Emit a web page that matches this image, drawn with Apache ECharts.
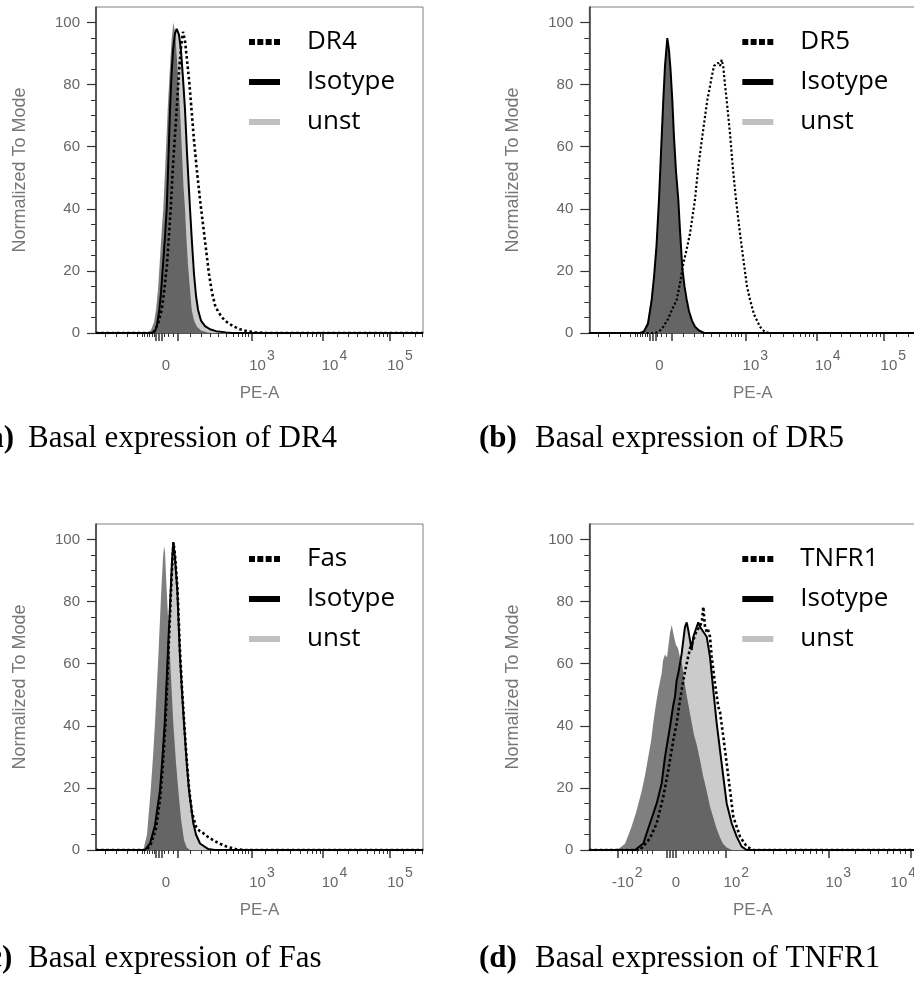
<!DOCTYPE html>
<html lang="en">
<head>
<meta charset="UTF-8">
<title>Basal expression of death receptors</title>
<script src="https://cdn.jsdelivr.net/npm/echarts@6.0.0/dist/echarts.min.js"></script>
<style>
    html, body { margin: 0; padding: 0; background: #fff; }
    #main { width: 914px; height: 992px; }
</style>
</head>
<body>
<div id="main"></div>
<script type="text/javascript">
    // PE-A display channel (0 .. 327 across the plot) and % of mode
    var unstA = [[52,0],[55,1],[58,3.5],[60,7.5],[62,14],[64,24],[65.5,32],[67.3,40],[69,52],[70.5,63],[71.7,72],[73.5,83],[75.5,94],[77.3,100],[79,97],[81,88],[82.5,80],[84,72],[86,58],[87.5,47],[89,40],[90.5,30],[92,22],[94,14],[95.7,7.5],[98,4],[101,2],[105,0.8],[112,0.2],[118,0]];
    var isoA = [[56,0],[59,0.5],[61,2.5],[63.3,7.5],[65,13],[67,22],[69,31],[70.7,40],[72,52],[73,62],[74,72],[75.5,83],[77,91],[79,96.5],[80.7,98],[83,96],[85,91],[87,82],[89,72],[91,58],[93,46],[94,40],[96,29],[98,19],[100,12],[102,7.5],[105,4],[109,2.2],[114,1.2],[120,0.6],[130,0.2],[136,0]];
    var dr4A = [[54,0],[58,0.5],[62,3],[65.7,7.5],[68,13],[71,22],[74.7,40],[77,54],[80.7,72],[83,84],[85,92],[87,97],[89,94],[91,88],[93.5,80],[96,70],[98,62],[101,52],[104,43],[107,35],[110,27],[113,19],[116,13],[119,9],[122,7],[126,5],[131,3.5],[137,2.2],[144,1.2],[151,0.6],[159,0.2],[169,0]];

    var unstB = [[50,0],[54,0.8],[58,3.5],[62,11.5],[64.5,19],[67,29],[69.5,44],[71.5,59],[73.8,76],[75.5,87],[77.7,95],[79.5,91],[81,84],[82.8,74],[84.5,62],[86.5,51],[88.8,42],[90.5,32],[92.8,20],[95,14],[97.2,10],[99.5,6.5],[102.5,3.7],[105.5,1.8],[109.5,0.7],[114,0]];
    var isoB = [[50.7,0],[54.7,0.5],[58.7,3],[62.4,10.7],[64.7,18],[67.2,28],[69.7,43],[71.7,58],[74,75],[75.7,86],[78,95],[79.7,91],[81.2,85],[83,75],[84.7,63],[86.7,52],[89,43],[90.7,33],[93,21],[95.2,15],[97.4,10.7],[99.7,7],[102.7,4],[105.7,2],[109.7,0.8],[114.7,0]];
    var dr5B = [[65.7,0],[70.7,0.8],[74,2],[78.7,4.5],[82.7,7.5],[87.4,10.7],[90.7,16],[93.4,21.4],[96.7,26],[100.7,32],[105.7,43],[109,53.6],[113.4,64.3],[118,75],[120.7,79.5],[122.7,83],[124.7,86],[126.7,85.5],[128.7,87],[130.7,86],[132.4,88],[134,85.7],[135.7,80],[137.4,75],[140.7,64.3],[143.4,53.6],[146.7,43],[150.7,32],[155,21.4],[157.7,15],[160.7,10.7],[164.7,6],[167.7,4],[170.7,2],[175.7,0.3],[180.7,0]];

    var unstC = [[47.3,0],[51,5],[54.7,19.3],[57,30],[59,40.8],[62.3,62.2],[65.3,83.7],[67,94],[68,97.8],[69,96],[70.7,83.7],[72.5,72],[74,62.2],[75.7,51],[77.3,40.8],[80,28],[82.3,19.3],[85,10],[88,3.2],[90.7,0.8],[94,0]];
    var isoC = [[49,0],[54,2.1],[59,8],[64,19.3],[66.5,30],[68.7,40.8],[71.7,62.2],[74.7,83.7],[76,93],[77.3,99.2],[79,94],[81.3,83.7],[84,62.2],[86,51],[88,40.8],[90.5,29],[93,19.3],[97.3,8.6],[100,5],[104,2.1],[112.3,0.3],[119,0]];
    var fasC = [[51,0],[55,2],[60,7],[64,16],[67,28],[69.5,41],[72,60],[75,83],[76.5,94],[77.5,99],[79,95],[81.5,84],[84,64],[86,52],[88,42],[90.5,30],[93,20],[96,12],[100,7.5],[104,6],[107.3,5.4],[112,4.2],[117,3.2],[124,2],[130.7,1.1],[140.7,0.2],[149,0]];

    var unstD = [[22.7,0],[29.7,0.5],[35.7,2],[41.7,7],[46.7,12],[52.4,19],[55.7,24],[59,30],[61.7,35],[64,41],[66.7,47],[69,51.5],[70.7,52],[72.4,57],[73.7,61],[75.7,63],[77.7,62],[79.2,66],[80.7,70],[82.4,72.5],[83.7,72],[85.2,68],[86.7,66],[88.7,65],[90.7,62],[92.7,60],[94.7,55],[97.2,50],[99,47],[100.7,44],[102.4,41],[104.7,37],[107.4,34],[110.7,29],[113.7,24],[117.4,19],[120.7,14],[124,10.5],[127.2,7],[130.7,4],[133.7,2],[137.4,0.8],[142.7,0]];
    var isoD = [[45.7,0],[54,2.1],[60.7,8.6],[67.4,15],[72.4,21.5],[75.7,30],[77.4,33.3],[80.7,39.7],[84,46.7],[85.7,49.4],[87.4,54.7],[89,56.9],[90.7,60],[92.4,63.3],[94,67.6],[95.7,71.9],[97.4,73.3],[99,70.8],[100.7,67.6],[102.4,64.4],[104,68.7],[107.4,71.9],[109,73.3],[110.7,71.9],[114,70.3],[117.4,68.7],[120.7,62.2],[124,51.5],[127.4,40.8],[130.7,32.2],[134,23.6],[137.4,15],[142.4,8.6],[147.4,4.3],[152.4,1.1],[157.4,0]];
    var tnfr1D = [[50.7,0],[60.7,3.8],[67.4,8.6],[74,17.2],[79,25.7],[84,35.4],[87.4,40.8],[90.7,48.3],[94,54.7],[97.4,60.1],[100.7,64.9],[104,67.6],[107.4,70.8],[110.7,71.9],[112.7,74],[114,78.3],[115.7,71.9],[117.4,70.3],[118.7,71],[120.7,68.7],[122.4,62.2],[125.7,53.6],[129,46.1],[130.7,44.5],[134,36.5],[137.4,27.9],[140.7,19.3],[144,10.7],[150.7,4.3],[157.4,1.1],[164,0]];

    // biexponential axis: tick and label positions in display channels
    var majorTicksLog = [60, 63, 66, 82, 156, 227, 294];
    var minorTicksLog = [9, 20, 31, 41, 46, 48, 51, 53, 56, 58, 68, 72, 77, 94, 105, 114, 122, 130, 137, 142, 146, 149, 152, 169, 181, 194, 204, 211, 216, 220, 224, 241, 252, 261, 271, 278, 283, 287, 291, 307, 319, 326];
    var labelPosLog = [70, 166, 238.5, 304];
    var labelTextLog = ['0', '10^3', '10^4', '10^5'];

    var majorTicksD = [28, 77, 80, 83, 86, 136, 239, 321];
    var minorTicksD = [33, 38, 43, 48, 53, 58, 63, 94, 99, 104, 109, 114, 119, 124, 129, 165, 184, 197, 206, 214, 221, 227, 233, 266, 281, 289, 298, 304, 311, 316];
    var labelPosD = [38, 86.7, 147, 249, 314];
    var labelTextD = ['-10^2', '0', '10^2', '10^3', '10^4'];

    var yMajor = [0, 20, 40, 60, 80, 100];
    var yMinor = [5, 10, 15, 25, 30, 35, 45, 50, 55, 65, 70, 75, 85, 90, 95];

    var stainNames = ['DR4', 'DR5', 'Fas', 'TNFR1'];
    var captionTags = ['(a)', '(b)', '(c)', '(d)'];
    var captionTexts = ['Basal expression of DR4', 'Basal expression of DR5', 'Basal expression of Fas', 'Basal expression of TNFR1'];

    var panels = [
        {left: 96, top: 7, capY: 439, unst: unstA, iso: isoA, stain: dr4A, major: majorTicksLog, minor: minorTicksLog, labelPos: labelPosLog, labelText: labelTextLog, dot: 2.6},
        {left: 589.3, top: 7, capY: 439, unst: unstB, iso: isoB, stain: dr5B, major: majorTicksLog, minor: minorTicksLog, labelPos: labelPosLog, labelText: labelTextLog, dot: 2.2},
        {left: 96, top: 524, capY: 959, unst: unstC, iso: isoC, stain: fasC, major: majorTicksLog, minor: minorTicksLog, labelPos: labelPosLog, labelText: labelTextLog, dot: 2.6},
        {left: 589.3, top: 524, capY: 959, unst: unstD, iso: isoD, stain: tnfr1D, major: majorTicksD, minor: minorTicksD, labelPos: labelPosD, labelText: labelTextD, dot: 2.6}
    ];

    var AXIS_MAX = 327;
    var sansFont = '"Liberation Sans", Arial, sans-serif';
    var dotIcon = 'path://M0,0h6v6h-6zM8.4,0h6v6h-6zM16.8,0h6v6h-6zM25.2,0h6v6h-6z';
    var barIcon = 'path://M0,0h31v6h-31z';

    // zero counts on both sides of each histogram
    function pad(arr) {
        return [[0, 0]].concat(arr, [[AXIS_MAX, 0]]);
    }

    function tickLabel(text) {
        return '{b|' + text.replace('^', '}{s|') + '}';
    }

    var grids = [], xAxes = [], yAxes = [], series = [], legends = [], graphics = [];

    panels.forEach(function (p, i) {
        grids.push({
            left: p.left, top: p.top, width: 327, height: 326,
            show: true, borderColor: '#808080', borderWidth: 1,
            containLabel: false, outerBoundsMode: 'none'
        });

        xAxes.push({
            gridIndex: i, type: 'value', min: 0, max: AXIS_MAX, position: 'bottom',
            axisLine: {onZero: false, lineStyle: {color: '#333', width: 1.5}},
            axisTick: {customValues: p.major, length: 8, lineStyle: {color: '#333', width: 1.5}},
            axisLabel: {
                customValues: p.labelPos, margin: 16,
                formatter: function (v) {
                    var k = p.labelPos.indexOf(v);
                    return k < 0 ? '' : tickLabel(p.labelText[k]);
                },
                rich: {
                    b: {fontFamily: sansFont, fontSize: 15, color: '#666', lineHeight: 34},
                    s: {fontFamily: sansFont, fontSize: 14, color: '#666', lineHeight: 14, padding: [0, 0, 20, 1]}
                }
            },
            splitLine: {show: false},
            name: 'PE-A', nameLocation: 'middle', nameGap: 52,
            nameTextStyle: {fontFamily: sansFont, fontSize: 17, color: '#777'}
        });
        xAxes.push({
            gridIndex: i, type: 'value', min: 0, max: AXIS_MAX, position: 'bottom',
            axisLine: {show: false, onZero: false},
            axisTick: {customValues: p.minor, length: 4, lineStyle: {color: '#333', width: 1}},
            axisLabel: {show: false},
            splitLine: {show: false}
        });

        yAxes.push({
            gridIndex: i, type: 'value', min: 0, max: 105, position: 'left',
            axisLine: {onZero: false, lineStyle: {color: '#333', width: 1.5}},
            axisTick: {customValues: yMajor, length: 9, lineStyle: {color: '#333', width: 1.2}},
            axisLabel: {customValues: yMajor, margin: 16, fontFamily: sansFont, fontSize: 15, color: '#666'},
            splitLine: {show: false},
            name: 'Normalized To Mode', nameLocation: 'middle', nameGap: 67,
            nameTextStyle: {fontFamily: sansFont, fontSize: 18, color: '#777'}
        });
        yAxes.push({
            gridIndex: i, type: 'value', min: 0, max: 105, position: 'left',
            axisLine: {show: false, onZero: false},
            axisTick: {customValues: yMinor, length: 5, lineStyle: {color: '#333', width: 1}},
            axisLabel: {show: false},
            splitLine: {show: false}
        });

        var common = {type: 'line', xAxisIndex: 2 * i, yAxisIndex: 2 * i, symbol: 'none', silent: true, animation: false};

        series.push(Object.assign({}, common, {
            name: 'Isotype', data: pad(p.iso), z: 2,
            lineStyle: {color: '#000', width: 2},
            itemStyle: {color: '#000'},
            areaStyle: {color: '#cbcbcb', opacity: 1}
        }));
        series.push(Object.assign({}, common, {
            name: 'unst', data: pad(p.unst), z: 3,
            lineStyle: {width: 0},
            itemStyle: {color: '#c0c0c0'},
            areaStyle: {color: '#000', opacity: 0.5}
        }));
        series.push(Object.assign({}, common, {
            name: stainNames[i], data: pad(p.stain), z: 4,
            lineStyle: {color: '#000', width: p.dot, type: [p.dot, p.dot], cap: 'butt'},
            itemStyle: {color: '#000'}
        }));

        legends.push({
            orient: 'vertical', left: p.left + 153, top: p.top + 20, padding: 0,
            itemGap: 10, itemWidth: 31, itemHeight: 6, selectedMode: false,
            textStyle: {fontFamily: '"Open Sans", sans-serif', fontSize: 26, color: '#000', lineHeight: 30, padding: [0, 0, 0, 22]},
            data: [
                {name: stainNames[i], icon: dotIcon, itemStyle: {color: '#000', borderWidth: 0}},
                {name: 'Isotype', icon: barIcon, itemStyle: {color: '#000', borderWidth: 0}},
                {name: 'unst', icon: barIcon, itemStyle: {color: '#c0c0c0', borderWidth: 0}}
            ]
        });

        graphics.push({
            type: 'text', x: (i % 2 === 0 ? -22 : 479), y: p.capY,
            style: {text: captionTags[i], font: 'bold 31px "Liberation Serif", serif', fill: '#000', align: 'left', verticalAlign: 'middle'}
        });
        graphics.push({
            type: 'text', x: (i % 2 === 0 ? 28 : 535), y: p.capY,
            style: {text: captionTexts[i], font: '31px "Liberation Serif", serif', fill: '#000', align: 'left', verticalAlign: 'middle'}
        });
    });

    var myChart = echarts.init(document.getElementById('main'), null, {renderer: 'canvas'});
    myChart.setOption({
        animation: false,
        backgroundColor: '#fff',
        grid: grids,
        xAxis: xAxes,
        yAxis: yAxes,
        legend: legends,
        series: series,
        graphic: graphics
    });
</script>
</body>
</html>
